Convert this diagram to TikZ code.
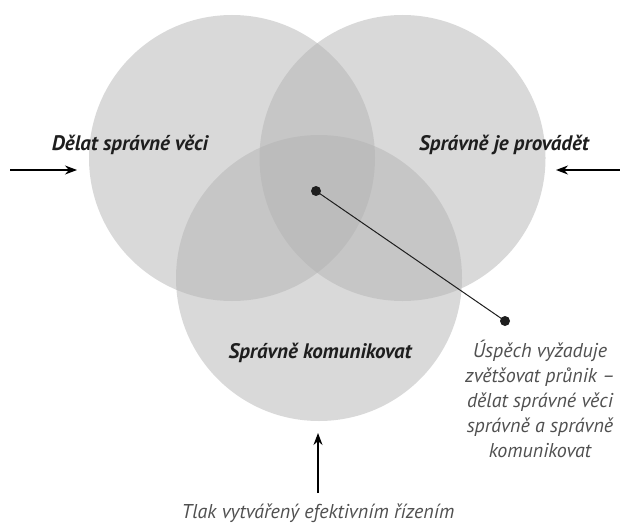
\documentclass[tikz,border=0pt]{standalone}
\usepackage{fontspec}
\setmainfont{PT Sans}
\usetikzlibrary{arrows.meta}
\definecolor{circfill}{RGB}{179,179,179}
\definecolor{labtext}{RGB}{30,30,30}
\definecolor{notetext}{RGB}{80,80,80}
\definecolor{dotcol}{RGB}{30,30,30}
\tikzset{
  venn/.style={circle, minimum size=286pt, inner sep=0pt, fill=circfill, fill opacity=0.5, draw=none},
  biglabel/.style={font=\fontsize{21}{24}\selectfont\bfseries\itshape, text=labtext, inner sep=0pt},
  note/.style={font=\fontsize{20}{25}\selectfont\itshape, text=notetext, align=center, inner sep=0pt},
  pointer/.style={-{Stealth[length=12pt,width=9pt]}, line width=1.2pt, black},
  dotmark/.style={circle, fill=dotcol, minimum size=10pt, inner sep=0pt},
}
\begin{document}
\begin{tikzpicture}[x=1pt,y=-1pt]
\useasboundingbox (0,0) rectangle (620,524);
\node[venn] (cl) at (232,158) {};
\node[venn] (cr) at (402.5,158) {};
\node[venn] (cb) at (319,278) {};
\node[biglabel] (l1) at (130,145) {Dělat správné věci};
\node[biglabel] (l2) at (504,145) {Správně je provádět};
\node[biglabel] (l3) at (320,353) {Správně komunikovat};
\node[dotmark] (d1) at (316,191) {};
\node[dotmark] (d2) at (505,321) {};
\draw[line width=1pt, dotcol] (d1.center) -- (d2.center);
\node[note] (n1) at (540,399) {Úspěch vyžaduje\\zvětšovat průnik –\\dělat správné věci\\správně a správně\\komunikovat};
\node[note, anchor=base] (n2) at (318,518) {Tlak vytvářený efektivním řízením};
\coordinate (al0) at (10,170);
\coordinate (al1) at (77,170);
\coordinate (ar0) at (622,170);
\coordinate (ar1) at (556,170);
\coordinate (ab0) at (318,493);
\coordinate (ab1) at (318,433);
\draw[pointer] (al0) -- (al1);
\draw[pointer] (ar0) -- (ar1);
\draw[pointer] (ab0) -- (ab1);
\end{tikzpicture}
\end{document}
